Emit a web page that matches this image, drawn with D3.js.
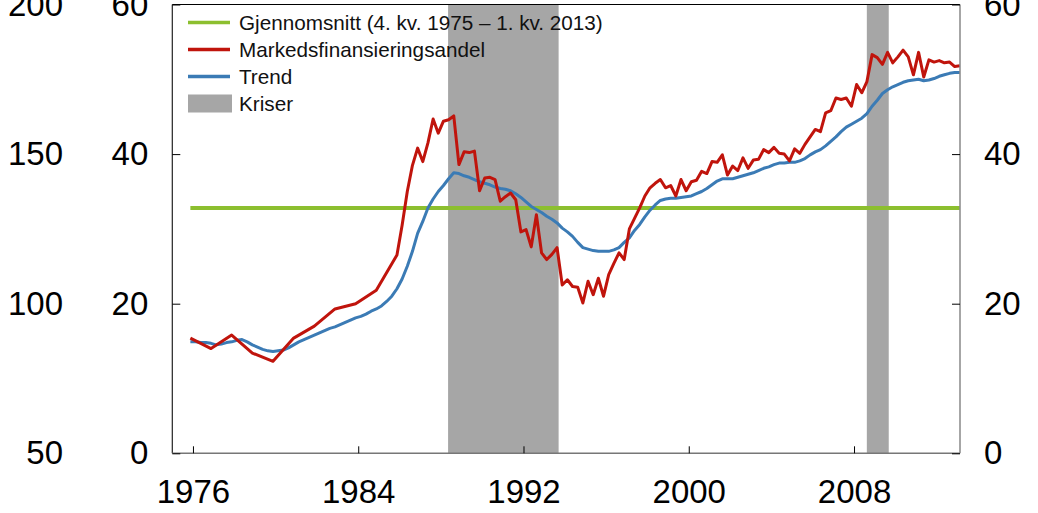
<!DOCTYPE html>
<html lang="no">
<head>
    <meta charset="UTF-8">
    <title>Markedsfinansieringsandel</title>
    <script src="https://cdn.jsdelivr.net/npm/d3@7"></script>
    <style>
        html, body {
            margin: 0;
            padding: 0;
            background: #fff;
            overflow: hidden;
        }
        svg {
            display: block;
            font-family: "Liberation Sans", Arial, sans-serif;
        }
    </style>
</head>
<body>
    <div id="vis"></div>
    <script>
        // quarterly series, first observation 1975 Q4, last 2013 Q1
        // (before 1986 only the Q4 value is observed -> null elsewhere)
        var firstYear = 1975, firstQuarter = 4;

        var market = [
            15.4, null, null, null, 14.0, null, null, null, 15.8, null, null, null,
            13.4, null, null, null, 12.3, null, null, null, 15.4, null, null, null,
            17.0, null, null, null, 19.3, null, null, null, 20.0, null, null, null,
            21.8, null, null, null, 26.5, 30.5, 35.0, 38.5, 40.8, 39.0, 41.5, 44.7,
            42.8, 44.4, 44.6, 45.1, 38.6, 40.3, 40.2, 40.4, 35.1, 36.8, 36.9, 36.6,
            33.7, 34.3, 34.8, 33.9, 29.6, 29.9, 27.6, 31.9, 26.8, 25.9, 26.6, 27.5,
            22.5, 23.2, 22.3, 22.2, 20.1, 23.0, 21.2, 23.4, 21.0, 23.9, 25.4, 26.8,
            25.9, 30.0, 31.4, 32.8, 34.4, 35.5, 36.1, 36.6, 35.5, 35.8, 34.4, 36.6,
            35.1, 36.3, 36.5, 37.7, 37.4, 39.0, 38.9, 39.9, 37.2, 38.4, 37.8, 39.5,
            38.1, 39.2, 39.3, 40.6, 40.2, 40.9, 40.1, 40.0, 39.1, 40.7, 40.1, 41.3,
            42.3, 43.3, 43.0, 45.5, 45.8, 47.5, 47.3, 47.5, 46.4, 49.3, 48.2, 49.7,
            53.3, 52.9, 52.0, 53.6, 52.2, 53.0, 53.9, 53.0, 50.6, 53.6, 50.3, 52.6,
            52.3, 52.5, 52.2, 52.3, 51.7, 51.8
        ];

        var trend = [
            14.9, 14.9, 14.8, 14.8, 14.7, 14.5, 14.6, 14.8, 14.9, 15.1, 15.2, 14.9,
            14.5, 14.2, 13.9, 13.7, 13.6, 13.7, 13.8, 14.1, 14.5, 14.9, 15.2, 15.5,
            15.8, 16.1, 16.4, 16.7, 16.9, 17.2, 17.5, 17.8, 18.1, 18.3, 18.6, 19.0,
            19.3, 19.7, 20.3, 21.0, 22.0, 23.3, 25.0, 27.0, 29.4, 31.0, 32.8, 34.0,
            35.0, 35.8, 36.7, 37.5, 37.4, 37.1, 36.9, 36.6, 36.3, 36.1, 35.9, 35.6,
            35.4, 35.3, 35.1, 34.7, 34.2, 33.6, 33.0, 32.6, 32.2, 31.7, 31.3, 30.8,
            30.1, 29.6, 29.0, 28.2, 27.5, 27.3, 27.1, 27.0, 27.0, 27.0, 27.2, 27.5,
            28.2, 28.8, 29.8, 30.6, 31.6, 32.5, 33.2, 33.8, 34.0, 34.1, 34.1, 34.2,
            34.3, 34.4, 34.7, 35.0, 35.4, 35.9, 36.4, 36.7, 36.7, 36.7, 36.9, 37.1,
            37.3, 37.5, 37.8, 38.1, 38.3, 38.6, 38.8, 38.8, 38.9, 38.9, 39.1, 39.4,
            39.9, 40.3, 40.6, 41.1, 41.7, 42.3, 43.0, 43.6, 44.0, 44.4, 44.8, 45.4,
            46.4, 47.2, 48.1, 48.6, 49.0, 49.3, 49.6, 49.8, 49.9, 50.0, 49.8, 49.9,
            50.1, 50.4, 50.6, 50.8, 50.9, 50.9
        ];

        var average = 32.8;

        var crisisStart = [1988.35, 2008.62];
        var crisisEnd = [1993.7, 2009.68];

        var xTicks = [1976, 1984, 1992, 2000, 2008];
        var yTicks = [0, 20, 40, 60];
        var yTicksOuter = [50, 100, 150, 200];

        var legendLabels = [
            "Gjennomsnitt (4. kv. 1975 \u2013 1. kv. 2013)",
            "Markedsfinansieringsandel",
            "Trend",
            "Kriser"
        ];

        var colors = {
            average: "#8cbf2f",
            market: "#c0140c",
            trend: "#3b7bb5",
            crisis: "#a6a6a6"
        };

        /* layout */
        var W = 1038, H = 513;
        var plotLeft = 172.3, plotRight = 960, plotTop = 4.5, plotBottom = 453.3;

        var svg = d3.select("#vis")
            .append("svg")
                .attr("width", W)
                .attr("height", H);

        var x = d3.scaleLinear()
            .domain([1975.0, 2013.13])
            .range([plotLeft, plotRight]);

        var y = d3.scaleLinear()
            .domain([0, 60])
            .range([plotBottom, plotTop]);

        var yOuter = d3.scaleLinear()
            .domain([50, 200])
            .range([plotBottom, plotTop]);

        function quarterTime(i) {
            // mid-point of the quarter
            return firstYear + (firstQuarter - 1) / 4 + 0.125 + i / 4;
        }

        var marketData = market
            .map(function(v, i) { return {t: quarterTime(i), v: v}; })
            .filter(function(d) { return d.v !== null; });
        var trendData = trend.map(function(v, i) { return {t: quarterTime(i), v: v}; });

        // crisis shading
        svg.selectAll(".crisis")
            .data(crisisStart)
            .enter()
            .append("rect")
                .attr("class", "crisis")
                .attr("x", function(d) { return x(d); })
                .attr("y", plotTop)
                .attr("width", function(d, i) { return x(crisisEnd[i]) - x(d); })
                .attr("height", plotBottom - plotTop)
                .attr("fill", colors.crisis);

        // average line
        svg.append("line")
            .attr("x1", x(trendData[0].t))
            .attr("x2", x(trendData[trendData.length - 1].t))
            .attr("y1", y(average))
            .attr("y2", y(average))
            .attr("stroke", colors.average)
            .attr("stroke-width", 4);

        var line = d3.line()
            .x(function(d) { return x(d.t); })
            .y(function(d) { return y(d.v); });

        svg.append("path")
            .datum(trendData)
            .attr("d", line)
            .attr("fill", "none")
            .attr("stroke", colors.trend)
            .attr("stroke-width", 3)
            .attr("stroke-linejoin", "round");

        svg.append("path")
            .datum(marketData)
            .attr("d", line)
            .attr("fill", "none")
            .attr("stroke", colors.market)
            .attr("stroke-width", 3)
            .attr("stroke-linejoin", "round");

        // frame
        svg.append("line")
            .attr("x1", plotLeft).attr("x2", plotRight)
            .attr("y1", plotTop).attr("y2", plotTop)
            .attr("stroke", "#000").attr("stroke-width", 1);
        svg.append("line")
            .attr("x1", plotLeft).attr("x2", plotLeft)
            .attr("y1", plotTop).attr("y2", plotBottom)
            .attr("stroke", "#222").attr("stroke-width", 1.2);
        svg.append("line")
            .attr("x1", plotRight).attr("x2", plotRight)
            .attr("y1", plotTop).attr("y2", plotBottom)
            .attr("stroke", "#888").attr("stroke-width", 1.5);
        svg.append("line")
            .attr("x1", plotLeft).attr("x2", plotRight)
            .attr("y1", plotBottom).attr("y2", plotBottom)
            .attr("stroke", "#777").attr("stroke-width", 1.5);

        // axes
        function styleAxis(g) {
            g.select(".domain").remove();
            g.attr("font-size", 33).attr("font-family", null);
            g.selectAll(".tick line").attr("stroke", "#000");
            g.selectAll(".tick text").attr("fill", "#000");
        }

        svg.append("g")
            .attr("transform", "translate(" + plotLeft + ",0)")
            .call(d3.axisLeft(y).tickValues(yTicks).tickSize(-8).tickPadding(24).tickFormat(d3.format("d")))
            .call(styleAxis);

        svg.append("g")
            .attr("transform", "translate(" + plotRight + ",0)")
            .call(d3.axisRight(y).tickValues(yTicks).tickSize(-8).tickPadding(24).tickFormat(d3.format("d")))
            .call(styleAxis);

        svg.append("g")
            .attr("transform", "translate(0," + plotBottom + ")")
            .call(d3.axisBottom(x).tickValues(xTicks).tickSize(-7).tickPadding(26).tickFormat(d3.format("d")))
            .call(styleAxis);

        // labels of the neighbouring axis, cut at the left edge
        svg.append("g")
            .attr("transform", "translate(63,0)")
            .call(d3.axisLeft(yOuter).tickValues(yTicksOuter).tickSize(0).tickPadding(0).tickFormat(d3.format("d")))
            .call(styleAxis);

        // legend
        var legend = svg.append("g")
            .attr("transform", "translate(188,22.5)");

        var legendColors = [colors.average, colors.market, colors.trend, colors.crisis];

        var item = legend.selectAll(".item")
            .data(legendLabels)
            .enter()
            .append("g")
                .attr("class", "item")
                .attr("transform", function(d, i) { return "translate(0," + (i * 27) + ")"; });

        item.each(function(d, i) {
            var g = d3.select(this);
            if (i === 3) {
                g.append("rect")
                    .attr("x", 0).attr("y", -9)
                    .attr("width", 44).attr("height", 18)
                    .attr("fill", legendColors[i]);
            } else {
                g.append("line")
                    .attr("x1", 0).attr("x2", 42)
                    .attr("y1", 0).attr("y2", 0)
                    .attr("stroke", legendColors[i])
                    .attr("stroke-width", 3.5);
            }
            g.append("text")
                .attr("x", 51)
                .attr("dy", "0.35em")
                .attr("font-size", 20.7)
                .attr("fill", "#111")
                .text(d);
        });
    </script>
</body>
</html>
